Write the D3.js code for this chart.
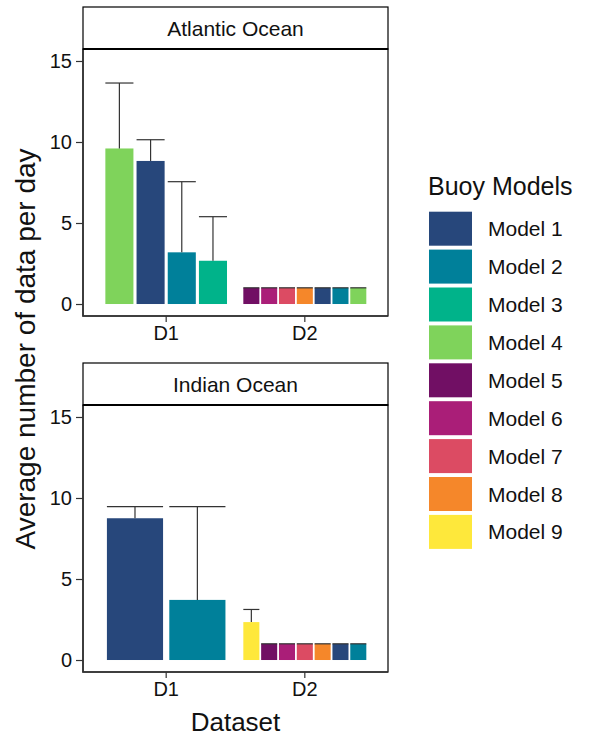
<!DOCTYPE html>
<html>
<head>
<meta charset="utf-8">
<script src="https://cdn.jsdelivr.net/npm/d3@7"></script>
<style>
  body { margin: 0; background: #fff; }
  text { font-family: "Liberation Sans", Arial, sans-serif; fill: #111; }
</style>
</head>
<body>
<div id="chart"></div>
<script>
// data
const modelNames = ["Model 1", "Model 2", "Model 3", "Model 4", "Model 5", "Model 6", "Model 7", "Model 8", "Model 9"];
const modelColors = ["#27477b", "#00809a", "#00b38a", "#7fd35b", "#710f64", "#aa1e78", "#dc4b63", "#f5872a", "#fee83b"];
const oceans = ["Atlantic Ocean", "Indian Ocean"];
const datasets = ["D1", "D2"];
const yTicks = [0, 5, 10, 15];

const atlD1Models = ["Model 4", "Model 1", "Model 2", "Model 3"];
const atlD1Mean = [9.6, 8.83, 3.19, 2.67];
const atlD1Upper = [13.64, 10.14, 7.55, 5.39];

const atlD2Models = ["Model 5", "Model 6", "Model 7", "Model 8", "Model 1", "Model 2", "Model 4"];
const atlD2Mean = [1, 1, 1, 1, 1, 1, 1];
const atlD2Upper = [1, 1, 1, 1, 1, 1, 1];

const indD1Models = ["Model 1", "Model 2"];
const indD1Mean = [8.75, 3.71];
const indD1Upper = [9.47, 9.47];

const indD2Models = ["Model 9", "Model 5", "Model 6", "Model 7", "Model 8", "Model 1", "Model 2"];
const indD2Mean = [2.34, 1, 1, 1, 1, 1, 1];
const indD2Upper = [3.12, 1, 1, 1, 1, 1, 1];

const groups = {
  "Atlantic Ocean": {
    D1: { models: atlD1Models, mean: atlD1Mean, upper: atlD1Upper },
    D2: { models: atlD2Models, mean: atlD2Mean, upper: atlD2Upper }
  },
  "Indian Ocean": {
    D1: { models: indD1Models, mean: indD1Mean, upper: indD1Upper },
    D2: { models: indD2Models, mean: indD2Mean, upper: indD2Upper }
  }
};

const width = 592, height = 737;
const svg = d3.select("#chart").append("svg")
  .attr("width", width).attr("height", height);

const left = 83, right = 388;
const stripH = 42, panelH = 267;
const panelTops = [49, 405];

const color = d3.scaleOrdinal().domain(modelNames).range(modelColors);

const x = d3.scaleBand()
  .domain(datasets)
  .range([left, right])
  .paddingInner(0.1)
  .paddingOuter(0.15);

oceans.forEach((ocean, pi) => {
  const top = panelTops[pi];
  const y = d3.scaleLinear().domain([-0.74, 15.74]).range([top + panelH, top]);
  const g = svg.append("g");

  // bars + error bars
  datasets.forEach(ds => {
    const grp = groups[ocean][ds];
    const sub = d3.scaleBand()
      .domain(d3.range(grp.models.length))
      .range([x(ds), x(ds) + x.bandwidth()])
      .paddingInner(0.1)
      .paddingOuter(0.05);

    const rows = grp.models.map((m, i) => ({ i, m, mean: grp.mean[i], upper: grp.upper[i] }));

    g.selectAll(null).data(rows).enter().append("rect")
      .attr("x", d => sub(d.i))
      .attr("width", sub.bandwidth())
      .attr("y", d => y(d.mean))
      .attr("height", d => y(0) - y(d.mean))
      .attr("fill", d => color(d.m));

    g.selectAll(null).data(rows).enter().append("line")
      .attr("x1", d => sub(d.i) + sub.bandwidth() / 2)
      .attr("x2", d => sub(d.i) + sub.bandwidth() / 2)
      .attr("y1", d => y(d.mean))
      .attr("y2", d => y(d.upper))
      .attr("stroke", "#333").attr("stroke-width", 1.2);

    g.selectAll(null).data(rows).enter().append("line")
      .attr("x1", d => sub(d.i))
      .attr("x2", d => sub(d.i) + sub.bandwidth())
      .attr("y1", d => y(d.upper))
      .attr("y2", d => y(d.upper))
      .attr("stroke", "#333").attr("stroke-width", 1.2);
  });

  // panel border
  g.append("rect")
    .attr("x", left).attr("y", top)
    .attr("width", right - left).attr("height", panelH)
    .attr("fill", "none").attr("stroke", "#000").attr("stroke-width", 1.2);
  g.append("path")
    .attr("d", `M${left},${top}V${top + panelH}H${right}`)
    .attr("fill", "none").attr("stroke", "#333").attr("stroke-width", 1.6);

  // strip
  g.append("rect")
    .attr("x", left).attr("y", top - stripH)
    .attr("width", right - left).attr("height", stripH)
    .attr("fill", "#fff").attr("stroke", "#000").attr("stroke-width", 1.2);
  g.append("line")
    .attr("x1", left).attr("x2", right)
    .attr("y1", top).attr("y2", top)
    .attr("stroke", "#000").attr("stroke-width", 2.2);
  g.append("text")
    .attr("x", (left + right) / 2).attr("y", top - stripH + 29)
    .attr("text-anchor", "middle")
    .style("font-size", "21px")
    .text(ocean);

  // y axis
  const yAxis = g.append("g")
    .attr("transform", `translate(${left},0)`)
    .call(d3.axisLeft(y).tickValues(yTicks).tickSize(7).tickPadding(4));
  yAxis.select(".domain").remove();
  yAxis.selectAll(".tick line").attr("stroke", "#333").attr("stroke-width", 1.2);
  yAxis.selectAll(".tick text")
    .style("font-size", "20px").style("font-family", "Liberation Sans, Arial, sans-serif")
    .attr("fill", "#111");

  // x axis
  const xAxis = g.append("g")
    .attr("transform", `translate(0,${top + panelH})`)
    .call(d3.axisBottom(x).tickSize(6).tickPadding(4));
  xAxis.select(".domain").remove();
  xAxis.selectAll(".tick line").attr("stroke", "#333").attr("stroke-width", 1.2);
  xAxis.selectAll(".tick text")
    .style("font-size", "20px").style("font-family", "Liberation Sans, Arial, sans-serif")
    .attr("fill", "#111");
});

// axis titles
svg.append("text")
  .attr("x", (left + right) / 2).attr("y", 731)
  .attr("text-anchor", "middle")
  .style("font-size", "26px")
  .text("Dataset");

svg.append("text")
  .attr("transform", "translate(35,349) rotate(-90)")
  .attr("text-anchor", "middle")
  .style("font-size", "28px")
  .text("Average number of data per day");

// legend
const legend = svg.append("g");
legend.append("text")
  .attr("x", 428).attr("y", 195)
  .style("font-size", "25px")
  .text("Buoy Models");

const keyStep = 37.9;
const item = legend.selectAll(null).data(modelNames).enter().append("g")
  .attr("transform", (d, i) => `translate(429,${211.7 + i * keyStep})`);
item.append("rect")
  .attr("width", 43).attr("height", 34)
  .attr("fill", d => color(d));
item.append("text")
  .attr("x", 59).attr("y", 17 + 7.5)
  .style("font-size", "21px")
  .text(d => d);
</script>
</body>
</html>
